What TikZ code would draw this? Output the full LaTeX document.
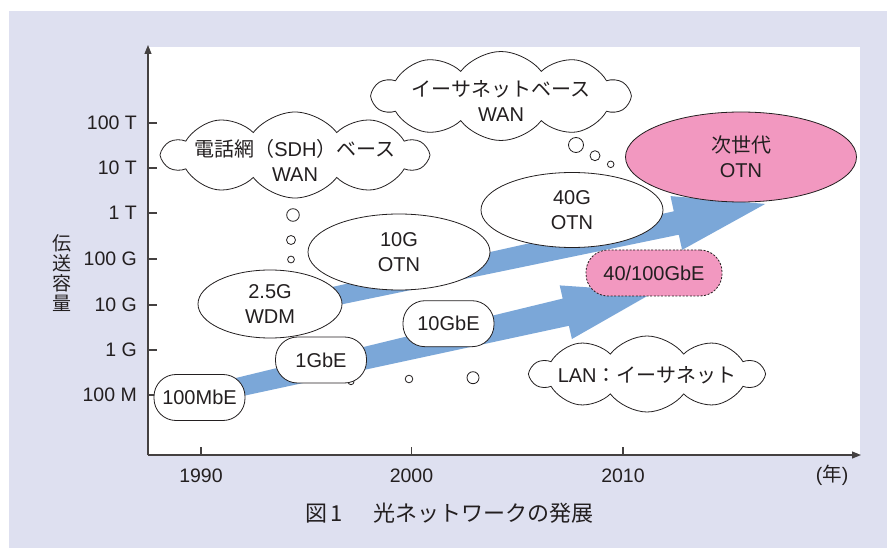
\documentclass[tikz,border=0pt]{standalone}
\usepackage{fontspec}
\setmainfont{Liberation Sans}
\newfontfamily\jp{Noto Sans CJK JP}
\usetikzlibrary{shapes.geometric,shapes.symbols,arrows.meta}

\definecolor{panel}{RGB}{222,224,240}
\definecolor{flow}{RGB}{123,167,216}
\definecolor{rose}{RGB}{242,152,192}
\definecolor{ink}{RGB}{35,31,32}

\tikzset{
  outline/.style={draw=ink, line width=0.8pt},
  axisline/.style={draw=ink!85, line width=1.1pt},
  txt/.style={font=\fontsize{20}{25}\selectfont, text=ink, align=center},
  ell/.style={outline, ellipse, fill=white, inner sep=0pt, txt},
  pill/.style={outline, rectangle, rounded corners=22pt, fill=white,
    minimum width=91pt, minimum height=46pt, inner sep=0pt, txt},
  puffy/.style={outline, cloud, cloud puffs=10, cloud puff arc=105,
    cloud ignores aspect, fill=white, inner sep=0pt},
  bubble/.style={outline, circle, fill=white, inner sep=0pt},
  ticklbl/.style={font=\fontsize{19.5}{22}\selectfont, text=ink, anchor=east, inner sep=0pt},
  yearlbl/.style={font=\fontsize{19.5}{22}\selectfont, text=ink, inner sep=0pt},
  tip/.style={-{Triangle[length=9pt,width=7pt]}}
}

\begin{document}
\begin{tikzpicture}[x=1pt,y=-1pt]
\useasboundingbox (0,0) rectangle (887,548);
% panel and plot area
\fill[white] (0,0) rectangle (887,548);
\fill[panel] (9,11) rectangle (887,548);
\fill[white] (148,47) rectangle (860,455);

% axes
\coordinate (origin) at (148,455);
\coordinate (ytop) at (148,45);
\coordinate (xend) at (861,455);
\draw[axisline, tip] (origin) -- (ytop);
\draw[axisline, tip] (origin) -- (xend);

\foreach \y/\t/\n in {123/100 T/a, 168/10 T/b, 213/1 T/c, 259/100 G/d, 305/10 G/e, 350/1 G/f, 395/100 M/g}{
  \draw[axisline] (148,\y) -- (157,\y);
  \node[ticklbl] (ytick-\n) at (137,\y) {\t};
}
\foreach \x/\t in {201/1990, 411.5/2000, 623/2010}{
  \draw[axisline] (\x,455) -- (\x,447);
  \node[yearlbl] (year-\t) at (\x,475.5) {\t};
}
\node[yearlbl] (unit) at (832,475.5) {({\jp 年})};
\node[font=\jp\fontsize{19}{20}\selectfont, text=ink, align=center, inner sep=0pt] (ylabel) at (62,273) {伝\\送\\容\\量};

% growth arrows
\fill[flow] (198.0,387.2) -- (562.7,298.6) -- (559.7,285.4) -- (654.5,291.9)
  -- (571.9,339.0) -- (568.9,325.8) -- (202.0,404.8) -- cycle;
\fill[flow] (268.1,301.2) -- (673.8,211.3) -- (670.5,196.1) -- (765.3,203.9)
  -- (682.1,249.9) -- (678.8,234.7) -- (271.9,318.8) -- cycle;

% thought bubbles
\node[bubble, minimum size=12.6pt] (sb1) at (293,215) {};
\node[bubble, minimum size=9pt] (sb2) at (291,240) {};
\node[bubble, minimum size=6.8pt] (sb3) at (291,259.5) {};
\node[bubble, minimum size=15pt] (wb1) at (576,145) {};
\node[bubble, minimum size=10pt] (wb2) at (595,155.7) {};
\node[bubble, minimum size=6.6pt] (wb3) at (610.7,164.3) {};
\node[bubble, minimum size=12pt] (lb1) at (473,377.7) {};
\node[bubble, minimum size=7.6pt] (lb2) at (409,379) {};
\node[bubble, minimum size=6pt] (lb3) at (351,381.7) {};

% clouds
\node[puffy, minimum width=264pt, minimum height=86pt] (sdh) at (295,155) {};
\node[txt] (sdhtext) at (295,160.5) {{\jp 電話網（}SDH{\jp ）ベース}\\WAN};
\node[puffy, minimum width=256pt, minimum height=89pt] (ewan) at (501,96) {};
\node[txt] (ewantext) at (501,100.5) {{\jp イーサネットベース}\\WAN};
\node[puffy, minimum width=232pt, minimum height=76pt] (lan) at (647,374) {};
\node[txt] (lantext) at (647,375) {LAN{\jp ：イーサネット}};

% technology nodes
\node[pill] (e100m) at (199.5,397.5) {100MbE};
\node[pill] (e1g) at (321,360) {1GbE};
\node[pill] (e10g) at (448.5,323.7) {10GbE};
\node[pill, fill=rose, dash pattern=on 2pt off 1.6pt, minimum width=136pt] (e40) at (654,273) {40/100GbE};
\node[ell, minimum width=144pt, minimum height=68pt] (wdm) at (270,304) {2.5G\\WDM};
\node[ell, minimum width=182pt, minimum height=76pt] (otn10) at (399,252) {10G\\OTN};
\node[ell, minimum width=182pt, minimum height=75pt] (otn40) at (572,210) {40G\\OTN};
\node[ell, fill=rose, minimum width=231pt, minimum height=90pt] (otnnext) at (741,157) {{\jp 次世代}\\OTN};

% caption
\node[font=\jp\fontsize{22}{24}\selectfont, text=ink, anchor=west, inner sep=0pt] (caption) at (305,513) {図\,1\hspace{30pt}光ネットワークの発展};
\end{tikzpicture}
\end{document}
